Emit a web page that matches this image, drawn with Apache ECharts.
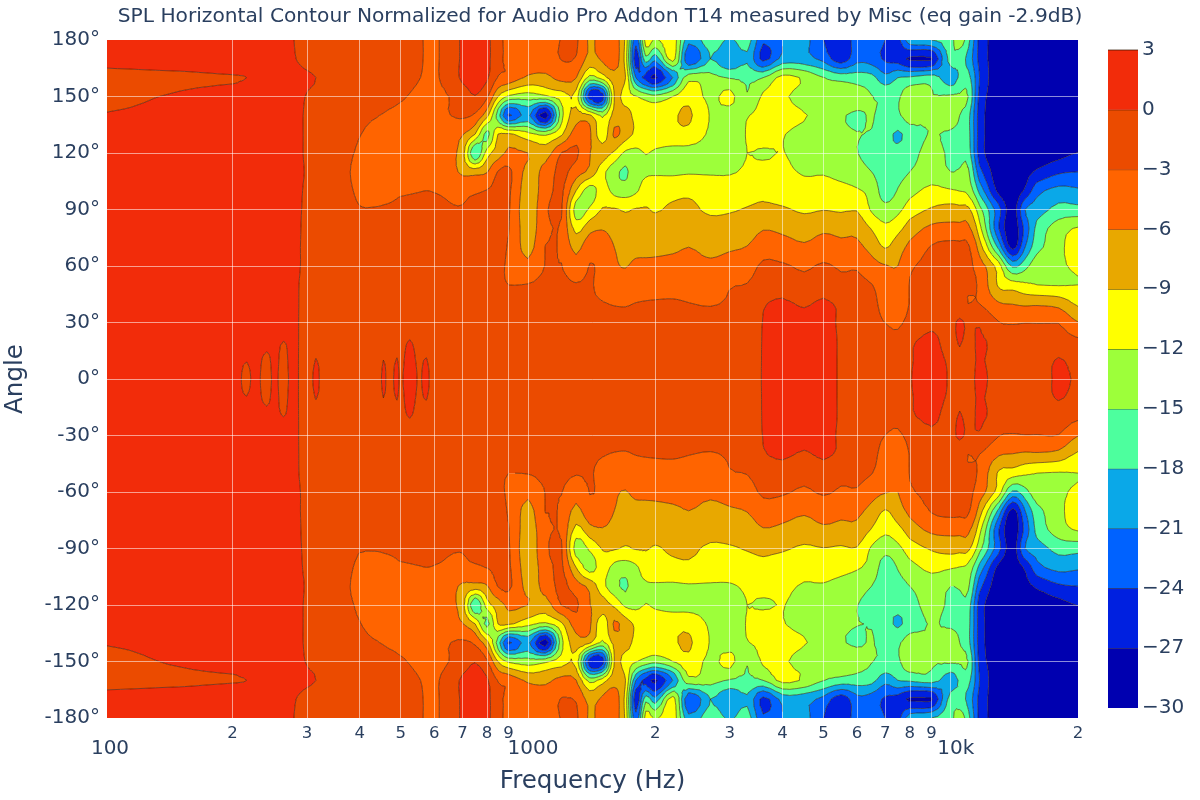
<!DOCTYPE html>
<html><head><meta charset="utf-8">
<style>html,body{margin:0;padding:0;background:#fff}#c{width:1200px;height:800px}</style>
<script src="https://cdn.jsdelivr.net/npm/echarts@6/dist/echarts.min.js"></script>
</head><body><div id="c"></div>
<script>
const titleText = 'SPL Horizontal Contour Normalized for Audio Pro Addon T14 measured by Misc (eq gain -2.9dB)';
const frequencies = [101,150,205,216,226,241,252,264,274,285,
 300,315,330,360,400,440,455,470,490,500,
 525,550,575,600,650,700,750,800,850,900,
 1000,1100,1200,1300,1400,1500,1600,1700,1800,1900,
 2000,2200,2400,2700,3000,3300,3600,4000,4500,5000,
 5500,6000,6500,7000,7500,8000,9000,10000,10500,11000,11700,
 13000,14000,15000,16000,18000,20000];
const levels = [-30,-27,-24,-21,-18,-15,-12,-9,-6,-3,0,3];
const bandColors = ['#0000b0','#0020e0','#0062ff','#0aa8e8','#4dff9e','#9dff3a','#ffff00','#e8a800','#ff6400','#eb4b00','#f22c0a'];
const freqTicks = [101,200,300,400,500,600,700,800,900,1000,2000,3000,4000,5000,6000,7000,8000,9000,10000,20000];
const freqLabels = {101:'100',200:'2',300:'3',400:'4',500:'5',600:'6',700:'7',800:'8',900:'9',1000:'1000',2000:'2',3000:'3',4000:'4',5000:'5',6000:'6',7000:'7',8000:'8',9000:'9',10000:'10k',20000:'2'};

// SPL (dB) per angle, one value per frequency above. The negative angles mirror these rows.
const spl_0 = [1.5,1.5,.5,-.4,.4,-.5,.3,-.6,.2,.1,
 -.8,.3,-.7,-1,-1,-.7,.2,-.4,.3,-.2,
 .7,-.1,.2,-.5,-1,-1.2,-1.2,-1.2,-1.3,-1.4,
 -1.5,-1.5,-1.5,-1.5,-1.5,-1.5,-1.5,-1.4,-1.4,-1.3,
 -1.3,-1.2,-1.2,-1,-1,-.8,.1,.6,.6,.6,
 -.2,-1,-1.2,-1.3,-1.1,-.1,.8,-.2,-.6,-.7,.4,
 -.8,-1,-1,-1.2,.4,-.3];
const spl_10 = [1.5,1.5,.5,.05,.5,-.3,.4,-.5,.3,.1,
 -.8,.05,-.7,-1,-1,-.8,0,-.4,.05,-.3,
 .5,-.2,.05,-.6,-1,-1.2,-1.2,-1.3,-1.4,-1.4,
 -1.5,-1.5,-1.5,-1.5,-1.5,-1.5,-1.5,-1.5,-1.5,-1.5,
 -1.4,-1.3,-1.2,-1.1,-1,-.9,.1,.6,.6,.6,
 -.2,-1,-1.2,-1.4,-1.5,-.2,.7,-.3,-.5,-.7,.2,
 -.9,-1.1,-1.1,-1.3,.2,-1];
const spl_20 = [1.5,1.5,.6,.5,.5,.4,.3,0,.2,.1,
 -.8,-.5,-.9,-1,-1,-.9,-.6,-.5,-.4,-.4,
 .05,-.4,-.4,-.8,-1.1,-1.3,-1.3,-1.4,-1.5,-1.5,
 -1.6,-1.6,-1.6,-1.6,-1.6,-1.6,-1.6,-1.6,-1.6,-1.6,
 -1.5,-1.4,-1.3,-1.2,-1.1,-1,.1,.6,.6,.6,
 -.2,-1.1,-1.4,-1.8,-2.3,-.4,.5,-.8,.2,-.7,.3,
 -.9,-1.7,-1.7,-1.6,-1.5,-2.4];
const spl_30 = [1.5,1.5,.8,.7,.6,.5,.4,.3,.2,.1,
 -.8,-.7,-1,-1,-1,-1,-1,-.9,-.9,-.8,
 -.5,-.7,-.8,-1,-1.2,-1.4,-1.5,-1.6,-1.6,-1.7,
 -1.7,-1.7,-1.7,-1.7,-1.7,-1.7,-1.7,-1.7,-1.7,-1.6,
 -1.6,-1.5,-1.4,-1.3,-1.2,-1.1,.05,.5,.4,.5,
 -.3,-1.5,-1.9,-3.05,-3.4,-2.2,-.5,-.9,.5,-.6,-.3,
 -2.9,-3.2,-3.05,-3.1,-3.1,-5.9];
const spl_40 = [1.5,1.5,.9,.8,.7,.6,.5,.4,.3,.1,
 -.7,-.8,-1,-1,-1.1,-1.1,-1.1,-1.1,-1,-1,
 -.9,-1,-1,-1.2,-1.4,-1.6,-1.7,-1.8,-1.9,-2,
 -2.1,-2.2,-2.3,-2.4,-2.5,-2.8,-3.2,-3.3,-2.9,-2.7,
 -2.6,-2.5,-2.9,-3.3,-2.6,-2.2,-.2,.3,-.2,.3,
 -.4,-1.6,-2.2,-4,-4.3,-2.9,-1.5,-1.5,-2,-3,-3,
 -5.7,-6.1,-6.5,-6.4,-7,-9.5];
const spl_50 = [1.5,1.5,1,.9,.8,.7,.6,.4,.3,.1,
 -.6,-.8,-1,-1,-1.2,-1.3,-1.4,-1.5,-1.7,-1.8,
 -1.7,-1.6,-1.4,-1.6,-1.8,-2,-2.2,-2.4,-2.6,-3,
 -2.9,-2.3,-2.3,-2.8,-2.7,-4,-5.2,-5,-4.8,-4.7,
 -4.6,-4.5,-4.6,-4.8,-3.2,-2.9,-1.6,-1,-2,-1,
 -2.2,-2.3,-2.9,-4.5,-5,-2.9,-2,-2,-2.2,-2.6,-3.5,
 -9.5,-10.5,-11.5,-12,-12.2,-12];
const spl_60 = [1.5,1.5,1,1,.9,.8,.7,.5,.4,.2,
 -.5,-.8,-1,-1.1,-1.3,-1.4,-1.6,-1.7,-1.9,-2,
 -2,-2,-2,-2.1,-2.2,-2.3,-2.5,-2.6,-2.8,-3.3,
 -5.2,-2.9,-2.9,-5,-2.9,-3.8,-5.6,-6.1,-5.5,-5.5,
 -5.4,-5.2,-5.3,-5.6,-5,-4.3,-2.5,-2.6,-3.5,-2.6,
 -3.4,-3.3,-4.8,-5.8,-6,-3.4,-2.3,-2.2,-2.2,-2.4,-4.5,
 -10.5,-18.5,-16,-13,-12.5,-11.5];
const spl_70 = [1.5,1.5,1,1,.9,.8,.7,.6,.4,.2,
 -.5,-.8,-1,-1.1,-1.3,-1.5,-1.6,-1.7,-1.9,-2,
 -2,-2.1,-2.1,-2.2,-2.3,-2.4,-2.5,-2.6,-2.8,-3.2,
 -7,-2.9,-3.4,-6.8,-4,-4.5,-6,-6.8,-6.8,-6.7,
 -6.7,-6.5,-6,-6.6,-6.3,-5.9,-4.3,-4.8,-5.6,-4.8,
 -5.3,-5.3,-7,-9.2,-7.3,-5.2,-2.8,-2.2,-2.3,-2.6,-7.5,
 -19,-28,-21,-16,-13,-10];
const spl_80 = [1.5,1.5,1,1,.9,.8,.7,.6,.4,.2,
 -.4,-.8,-1,-1.2,-1.4,-1.5,-1.6,-1.8,-1.9,-2,
 -2,-2.1,-2.1,-2.2,-2.3,-2.4,-2.5,-2.6,-2.7,-2.9,
 -7.5,-3.8,-3.3,-10,-7,-6.2,-7,-8,-8,-8,
 -8,-8,-7.5,-7.7,-7.7,-7.5,-6.2,-6.6,-7.2,-6.5,
 -6.8,-6.8,-9.2,-11.3,-9.9,-7.6,-5.3,-5.1,-5.1,-5.3,-11,
 -24,-29,-23,-17,-13.5,-11.7];
const spl_90 = [1.5,1.5,1,1,.9,.8,.7,.6,.4,.2,
 -.3,-.8,-1,-1.5,-2.8,-2.8,-2.7,-2.6,-2.5,-2.4,
 -2.3,-2.2,-2.2,-2.3,-2.8,-2.9,-2.5,-2.5,-2.6,-2.7,
 -8,-3.5,-2.7,-13.5,-11.5,-8.8,-8.7,-9.3,-8.8,-8.8,
 -9.2,-8.6,-8.4,-9.5,-9.3,-8.8,-8.4,-8.6,-9.5,-9.1,
 -9.4,-9.2,-12.4,-14,-12.8,-10.5,-8.7,-7.9,-8.1,-8.3,-14,
 -23,-28.5,-21,-19.5,-17,-17];
const spl_100 = [1.5,1.5,1,1,.9,.8,.7,.6,.4,.2,
 -.2,-.7,-.9,-1.6,-3.6,-4,-3.9,-3.8,-3.4,-3.3,
 -3.2,-3.1,-3,-3.1,-3.4,-3.6,-3.3,-2.9,-2.2,-2.5,
 -7.5,-4.5,-2.4,-9,-13.5,-10.5,-13,-13.5,-12.5,-10.5,
 -10,-9.8,-9.6,-10,-10.5,-10.2,-9.6,-10.6,-11.2,-11,
 -11.2,-11.7,-13,-16.5,-14.8,-13,-11.2,-11.7,-12.1,-13,-19,
 -28,-29,-26.5,-22,-20,-20.5];
const spl_110 = [1.5,1.5,1,1,.9,.8,.7,.6,.4,.2,
 -.1,-.6,-.9,-1.7,-4.2,-4.7,-4.6,-4.5,-4.4,-4.3,
 -4.2,-4.1,-4,-4.2,-4.8,-6.5,-7,-6.2,-2.8,-2.3,
 -7,-5,-2.2,-4.6,-6.8,-11,-14,-15.5,-13,-12.4,
 -12.4,-12.5,-12.3,-12.4,-12.3,-11.5,-10.5,-11.4,-12.2,-12.2,
 -12.8,-13.5,-15,-16.8,-16,-15,-13.5,-15,-14.7,-14.5,-23,
 -29,-29.5,-28,-26.5,-24.5,-24];
const spl_120 = [1.5,1.5,1,1,.9,.8,.7,.6,.4,.3,
 -.2,-.5,-.9,-1.8,-3.5,-4.8,-4.8,-4.7,-4.6,-4.5,
 -4.5,-4.5,-4.5,-4.7,-5.4,-7.5,-18,-10.5,-7.5,-5.5,
 -6,-7.5,-2.9,-2.5,-5.9,-7.5,-9.5,-12.6,-12.8,-11.9,
 -12.5,-13,-13,-13.2,-13.5,-12,-12.5,-11.9,-13,-13.5,
 -14,-14.9,-16.5,-17.5,-17,-16,-14,-15.5,-15.8,-16.5,-25.5,
 -29.5,-29.5,-29.5,-29,-28,-26.9];
const spl_130 = [1.5,1.5,1,1,.9,.8,.7,.6,.4,.3,
 -.2,-.5,-.9,-2,-2.9,-3.9,-4,-4,-4.1,-4.1,
 -4.3,-4.4,-4.5,-4.6,-5,-5.8,-9,-16,-8.9,-8.5,
 -11,-12.5,-9.5,-4.5,-5.5,-11,-5.5,-7.5,-9.5,-10,
 -10,-10,-10,-12.5,-13.5,-11.8,-10,-11.8,-13,-13.5,
 -14.4,-14.9,-15.2,-16.5,-18.5,-16.5,-14.8,-15.6,-16,-17,-25.5,
 -29.5,-29.5,-29.5,-29,-28.5,-28];
const spl_140 = [.15,.8,1,1,.9,.8,.7,.6,.4,.3,
 -.2,-.5,-.9,-1.9,-2.4,-2.9,-3.1,-3.3,-3.4,-3.5,
 -3.5,-3.5,-3.5,-3.6,-3.1,-2.5,-3.5,-8,-16.5,-24.5,
 -20,-29,-13,-7.5,-8.5,-12.5,-8,-7.5,-10,-10.5,
 -10.5,-9.5,-8.5,-12.2,-13.5,-12.2,-11,-10.5,-11.8,-13,
 -14.6,-15.5,-14.8,-16,-15.5,-13.5,-14.8,-13,-15,-17,-25.5,
 -29.5,-29.5,-29,-28.5,-28,-27];
const spl_150 = [-.5,.2,.6,.8,.8,.8,.7,.6,.5,.4,
 -.1,-.5,-.9,-1.5,-1.9,-2.2,-2.3,-2.4,-2.7,-2.8,
 -3.1,-3.4,-3.5,-3.6,-3,-1.5,-.1,-2.5,-9,-12.5,
 -13.5,-12.5,-10.5,-10,-26,-26,-9,-10.5,-11.8,-13,
 -14,-12,-10,-12.8,-11,-14.8,-11.5,-11.5,-13.5,-13.5,
 -13,-13.5,-14.9,-15.5,-15.5,-13,-14.8,-14.5,-14.6,-15,-25,
 -29,-29.5,-29.5,-29.5,-29.5,-29.5];
const spl_160 = [-.5,-.3,-.1,0,.6,.7,.7,.7,.7,.6,
 .3,0,-1,-1.5,-1.7,-1.9,-2,-2.1,-2.2,-2.3,
 -2.5,-2.9,-3.2,-3.3,-2,.5,.9,.4,-3.2,-4,
 -6.5,-6.8,-5,-5.9,-13,-10.5,-7,-8.9,-21,-25,
 -27.5,-21,-13,-14,-15.2,-15.5,-15,-11,-12.5,-14.9,
 -16,-16.5,-17,-20,-18,-17.5,-16.5,-20,-17.5,-17,-24,
 -29.5,-29.5,-29.5,-29,-29.5,-29.5];
const spl_170 = [.5,.8,.9,.9,.9,.8,.7,.6,.4,-.1,
 -.6,-1,-1.2,-1.4,-1.6,-1.8,-1.9,-2,-2.1,-2.2,
 -2.4,-2.8,-3.1,-3.2,-2.2,.5,1,.8,-2.3,-3.5,
 -4,-4.3,-2.9,-3.2,-7,-5.5,-4.5,-10,-26,-16,
 -20,-10.5,-24,-18,-21,-18.5,-25,-20,-20,-22,
 -26,-22,-22.5,-24.5,-25.5,-27.5,-27.5,-16.5,-17,-19,-25,
 -29,-29.5,-29.5,-29.5,-29.5,-29.5];
const spl_180 = [.6,.9,.9,.9,.9,.8,.7,.6,.2,-.2,
 -.7,-1,-1.2,-1.4,-1.6,-1.8,-1.9,-2,-2.1,-2.2,
 -2.4,-2.8,-3.1,-3.2,-2.2,.5,1,.8,-2.3,-3.5,
 -4,-4,-2.9,-2.5,-6.5,-4.5,-4.5,-9.5,-23,-10.5,
 -12.5,-10,-20,-16,-18.5,-16.5,-23.5,-21,-20,-24,
 -25.5,-23,-22.5,-24,-25,-19,-18,-16,-13.5,-17,-25,
 -28.5,-28.5,-28.5,-28.5,-28.5,-28.5];

const halfRows = [spl_0,spl_10,spl_20,spl_30,spl_40,spl_50,spl_60,spl_70,spl_80,spl_90,
 spl_100,spl_110,spl_120,spl_130,spl_140,spl_150,spl_160,spl_170,spl_180];
const angles = [];
for (let a=-180;a<=180;a+=10) angles.push(a);
const zGrid = angles.map(a=>halfRows[Math.abs(a)/10]);

const SUB = 3;
function fineValue(i,u,j,v){
  const nc=frequencies.length, nr=angles.length;
  const cr=(a,b,c,d,t)=>0.5*(2*b+(c-a)*t+(2*a-5*b+4*c-d)*t*t+(3*b-a-3*c+d)*t*t*t);
  const col=[];
  for(let r=-1;r<=2;r++){
    const row=zGrid[Math.min(nr-1,Math.max(0,j+r))];
    const g=k=>row[Math.min(nc-1,Math.max(0,k))];
    col.push(cr(g(i-1),g(i),g(i+1),g(i+2),u));
  }
  let z=cr(col[0],col[1],col[2],col[3],v);
  const i1=Math.min(nc-1,i+1), j1=Math.min(nr-1,j+1);
  const c=[zGrid[j][i],zGrid[j][i1],zGrid[j1][i],zGrid[j1][i1]];
  return Math.max(Math.min(...c),Math.min(Math.max(...c),z));
}
let meshCache=null;
function buildMesh(api){
  if(meshCache) return meshCache;
  const nc=frequencies.length, nr=angles.length;
  const nodes=[];
  for(let j=0;j<nr-1;j++) for(let sj=0;sj<(j===nr-2?SUB+1:SUB);sj++){
    const v=sj/SUB, line=[];
    const a=angles[j]+(angles[j+1]-angles[j])*v;
    for(let i=0;i<nc-1;i++) for(let si=0;si<(i===nc-2?SUB+1:SUB);si++){
      const u=si/SUB;
      const f=Math.pow(10,Math.log10(frequencies[i])*(1-u)+Math.log10(frequencies[i+1])*u);
      const p=api.coord([f,a]);
      line.push([p[0],p[1],fineValue(i,u,j,v)]);
    }
    nodes.push(line);
  }
  const tris=[];
  for(let r=0;r<nodes.length-1;r++) for(let c=0;c<nodes[r].length-1;c++){
    const A=nodes[r][c],B=nodes[r][c+1],C=nodes[r+1][c+1],D=nodes[r+1][c];
    tris.push([A,B,C],[A,C,D]);
  }
  const fmt=n=>n.toFixed(2);
  const bandPaths=bandColors.map(()=>[]);
  const clip=(poly,lev,keepAbove)=>{
    const out=[];
    for(let k=0;k<poly.length;k++){
      const P=poly[k],Q=poly[(k+1)%poly.length];
      const pi=keepAbove?P[2]>=lev:P[2]<=lev, qi=keepAbove?Q[2]>=lev:Q[2]<=lev;
      if(pi) out.push(P);
      if(pi!==qi){const t=(lev-P[2])/(Q[2]-P[2]);out.push([P[0]+(Q[0]-P[0])*t,P[1]+(Q[1]-P[1])*t,lev]);}
    }
    return out;
  };
  const lineSegs=[];
  for(const t of tris){
    const zs=[t[0][2],t[1][2],t[2][2]];
    const zmin=Math.min(...zs), zmax=Math.max(...zs);
    for(let b=0;b<bandColors.length;b++){
      const lo=b===0?-Infinity:levels[b], hi=b===bandColors.length-1?Infinity:levels[b+1];
      if(zmax<lo||zmin>hi) continue;
      let poly=t;
      if(zmin<lo) poly=clip(poly,lo,true);
      if(poly.length&&zmax>hi) poly=clip(poly,hi,false);
      if(poly.length<3) continue;
      bandPaths[b].push('M'+poly.map(p=>fmt(p[0])+' '+fmt(p[1])).join('L')+'Z');
    }
    for(const lev of levels){
      if(lev<=zmin||lev>=zmax) continue;
      const pts=[];
      for(let k=0;k<3;k++){
        const P=t[k],Q=t[(k+1)%3];
        if((P[2]<lev)!==(Q[2]<lev)){const s=(lev-P[2])/(Q[2]-P[2]);pts.push([P[0]+(Q[0]-P[0])*s,P[1]+(Q[1]-P[1])*s]);}
      }
      if(pts.length===2) lineSegs.push('M'+fmt(pts[0][0])+' '+fmt(pts[0][1])+'L'+fmt(pts[1][0])+' '+fmt(pts[1][1]));
    }
  }
  meshCache={bands:bandPaths.map(a=>a.join('')),lines:lineSegs.join('')};
  return meshCache;
}
const contourLine='rgba(45,20,0,0.7)';
const ink='#2a3f5f', family='"DejaVu Sans", Verdana, sans-serif';
const gridColor='rgba(255,255,255,0.55)';
const chart=echarts.init(document.getElementById('c'),null,{renderer:'canvas'});
chart.setOption({
  animation:false,
  backgroundColor:'#fff',
  textStyle:{fontFamily:family},
  title:{text:titleText,left:595,textAlign:'center',top:2,textStyle:{fontSize:20.2,fontWeight:'normal',color:ink,fontFamily:family}},
  grid:[{left:107,top:40,width:971,height:678,containLabel:false,outerBoundsMode:'none'},
        {left:1108,top:50,width:30,height:658,containLabel:false,outerBoundsMode:'none'}],
  xAxis:[{type:'log',logBase:10,min:101,max:20000,z:10,gridIndex:0,
    name:'Frequency (Hz)',nameLocation:'middle',nameGap:51,nameTextStyle:{fontSize:24.6,color:ink,fontFamily:family},
    axisLine:{show:false},
    axisTick:{show:false,customValues:freqTicks},
    splitLine:{show:true,showMinLine:false,showMaxLine:false,lineStyle:{color:gridColor,width:1}},
    minorTick:{show:false},minorSplitLine:{show:false},
    axisLabel:{show:true,customValues:freqTicks,margin:7,hideOverlap:false,showMinLabel:true,showMaxLabel:true,
      formatter:v=>{const k=Math.round(v);const s=freqLabels[k];if(s===undefined)return '';if(k===101)return '{e|'+s+'}';return k===1000||k===10000?'{d|'+s+'}':'{m|'+s+'}';},
      rich:{m:{fontSize:16.5,color:ink,fontFamily:family,lineHeight:18},
            d:{fontSize:20,color:ink,fontFamily:family,lineHeight:20,padding:[28,0,0,10]},
            e:{fontSize:20,color:ink,fontFamily:family,lineHeight:20,padding:[28,0,0,6]}}}
  },{type:'value',gridIndex:1,min:0,max:1,show:false}],
  yAxis:[{type:'value',min:-180,max:180,interval:30,z:10,gridIndex:0,
    name:'Angle',nameLocation:'middle',nameGap:79,nameRotate:90,nameTextStyle:{fontSize:24.6,color:ink,fontFamily:family},
    axisLine:{show:false},axisTick:{show:false},
    splitLine:{show:true,showMinLine:false,showMaxLine:false,lineStyle:{color:gridColor,width:1}},
    axisLabel:{fontSize:20,color:ink,fontFamily:family,margin:7,formatter:v=>v+'°'}
  },{type:'value',gridIndex:1,min:-30,max:3,interval:3,position:'right',
    axisLine:{show:false},axisTick:{show:false},splitLine:{show:false},
    axisLabel:{fontSize:20,color:ink,fontFamily:family,margin:4,formatter:v=>String(v).replace('-','\u2212')}
  }],
  series:[{
    type:'custom',coordinateSystem:'cartesian2d',xAxisIndex:0,yAxisIndex:0,silent:true,clip:true,
    data:bandColors.map((c,i)=>[1000,0,i]).concat([[1000,0,bandColors.length]]),
    renderItem:(params,api)=>{
      const m=buildMesh(api), i=params.dataIndex;
      if(i<bandColors.length) return {type:'path',silent:true,shape:{pathData:m.bands[i]},style:{fill:bandColors[i]}};
      return {type:'path',silent:true,shape:{pathData:m.lines},style:{fill:null,stroke:contourLine,lineWidth:0.8}};
    }
  },{
    type:'custom',coordinateSystem:'cartesian2d',xAxisIndex:1,yAxisIndex:1,silent:true,
    data:bandColors.map((c,i)=>[0,levels[i],levels[i+1]]),
    renderItem:(params,api)=>{
      const p0=api.coord([0,api.value(2)]),p1=api.coord([1,api.value(1)]);
      return {type:'group',children:[
        {type:'rect',shape:{x:p0[0],y:p0[1],width:p1[0]-p0[0],height:p1[1]-p0[1]},style:{fill:bandColors[params.dataIndex]}},
        {type:'line',shape:{x1:p0[0],y1:p0[1],x2:p1[0],y2:p0[1]},style:{stroke:contourLine,lineWidth:1}}
      ]};
    }
  }]
});
</script></body></html>
